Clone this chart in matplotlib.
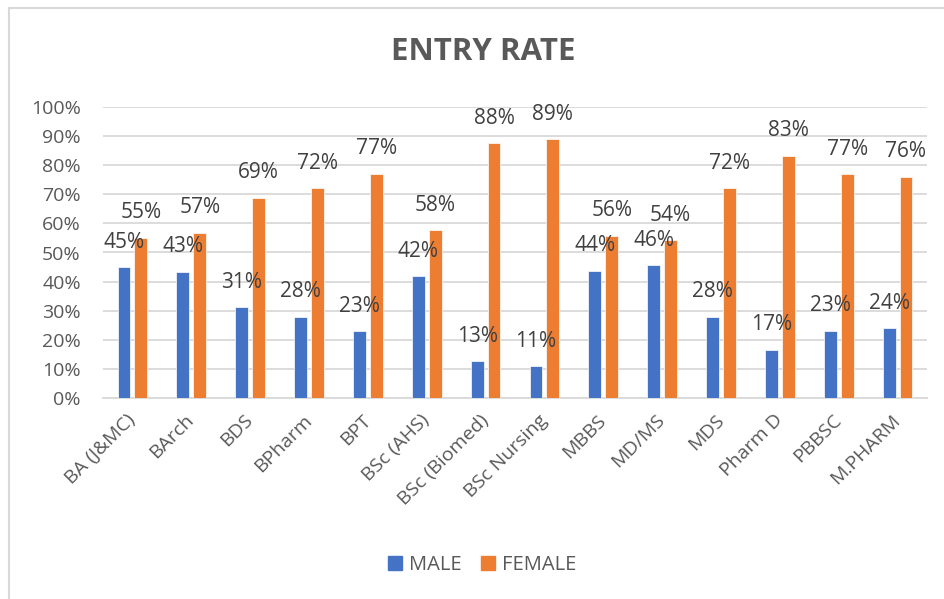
import matplotlib.pyplot as plt
import numpy as np
from matplotlib.lines import Line2D

categories = ["BA (J&MC)", "BArch", "BDS", "BPharm", "BPT", "BSc (AHS)", "BSc (Biomed)",
              "BSc Nursing", "MBBS", "MD/MS", "MDS", "Pharm D", "PBBSC", "M.PHARM"]
male = [45.0, 43.3, 31.2, 28.0, 22.9, 41.9, 12.6, 10.9, 43.7, 45.6, 28.0, 16.6, 23.1, 24.0]
female = [55.0, 56.8, 68.8, 72.1, 77.0, 57.6, 87.6, 88.9, 55.8, 54.2, 72.0, 83.3, 76.9, 76.1]
yticks = list(range(0, 101, 10))

plt.rcParams['font.family'] = ['Open Sans', 'DejaVu Sans']
W, H = 944, 599
fig = plt.figure(figsize=(W / 100, H / 100), dpi=100)

# chart border (top and left edges visible)
fig.add_artist(Line2D([9 / W, 1], [1 - 8 / H, 1 - 8 / H], color='#d9d9d9', lw=1.5))
fig.add_artist(Line2D([9 / W, 9 / W], [0, 1 - 8 / H], color='#d9d9d9', lw=1.5))

ax = fig.add_axes([103 / W, (H - 398) / H, 824 / W, 291 / H])
x = np.arange(len(categories))
bw = 0.22
off = 0.143
b1 = ax.bar(x - off, male, bw, color='#4472C4', edgecolor='white', linewidth=0.5, label='MALE', zorder=3)
b2 = ax.bar(x + off, female, bw, color='#ED7D31', edgecolor='white', linewidth=0.5, label='FEMALE', zorder=3)

for bars, vals in ((b1, male), (b2, female)):
    for r, v in zip(bars, vals):
        ax.annotate(f"{v:.0f}%", (r.get_x() + r.get_width() / 2, v), xytext=(0, 18),
                    textcoords='offset points', ha='center', va='center',
                    fontsize=15, color='#404040')

ax.set_xlim(-0.5, len(categories) - 0.5)
ax.set_ylim(0, 100)
ax.set_yticks(yticks)
ax.set_yticklabels([f"{t}%" for t in yticks], fontsize=14, color='#595959')
ax.set_xticks(x)
ax.set_xticklabels(categories, rotation=45, ha='right', va='center', rotation_mode='anchor',
                   fontsize=14, color='#595959')
ax.tick_params(axis='y', length=0, pad=16)
ax.tick_params(axis='x', length=0, pad=14)
ax.grid(axis='y', color='#d9d9d9', lw=1.3, zorder=0)
for s in ['top', 'right', 'left']:
    ax.spines[s].set_visible(False)
ax.spines['bottom'].set_color('#d9d9d9')
ax.spines['bottom'].set_linewidth(1.3)

fig.text(0.512, 1 - 52 / H, "ENTRY RATE", ha='center', va='center', fontsize=22.5,
         fontweight='bold', color='#595959')

handles = [Line2D([], [], marker='s', ls='', color='#4472C4', markersize=10),
           Line2D([], [], marker='s', ls='', color='#ED7D31', markersize=10)]
fig.legend(handles, ['MALE', 'FEMALE'], loc='center', bbox_to_anchor=(0.508, 1 - 565 / H),
           ncol=2, frameon=False, fontsize=14.5, labelcolor='#595959',
           handletextpad=0.1, columnspacing=0.7, handlelength=1.2)

fig.savefig('out.png', dpi=100)
